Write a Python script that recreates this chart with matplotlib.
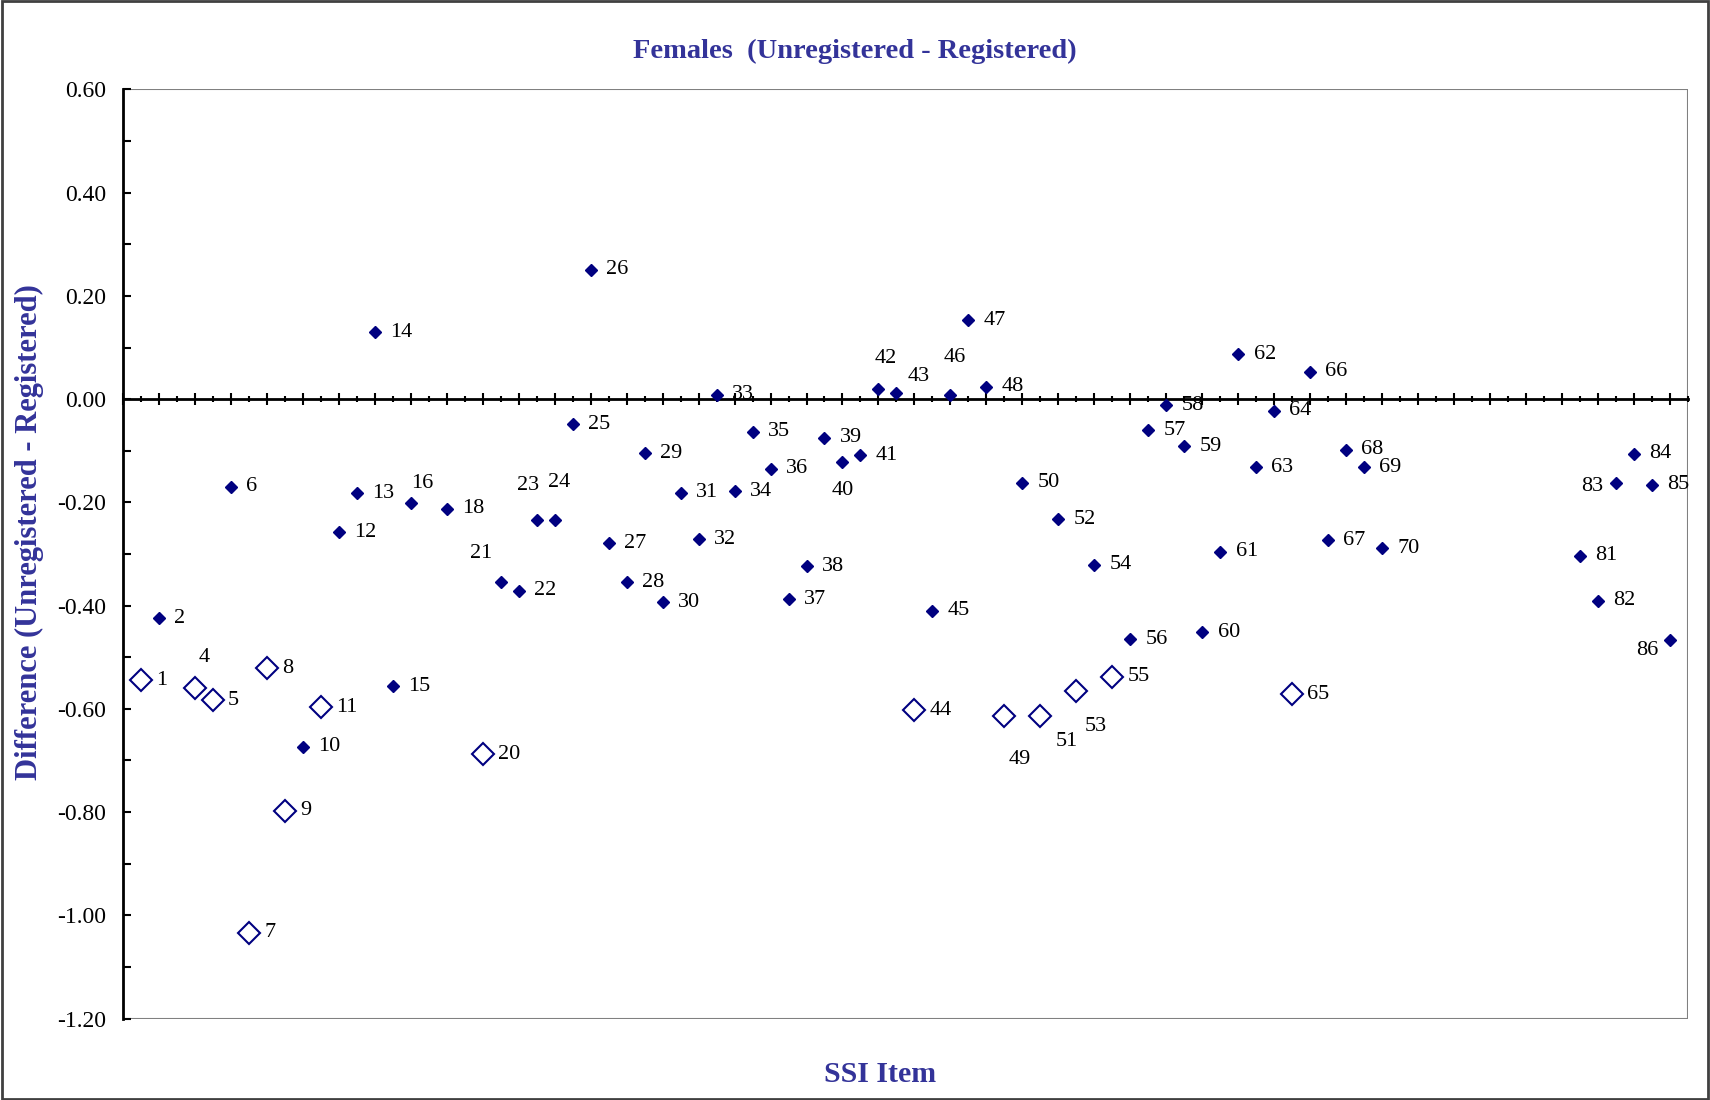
import numpy as np
import matplotlib
matplotlib.use("Agg")
import matplotlib.pyplot as plt
from matplotlib.patches import Rectangle
from matplotlib.ticker import MultipleLocator

# SSI items that have a value (3, 17, 19 and 71-80 are absent)
items = [1, 2, 4, 5, 6, 7, 8, 9, 10, 11, 12, 13, 14, 15, 16, 18, 20,
         21, 22, 23, 24, 25, 26, 27, 28, 29, 30, 31, 32, 33, 34, 35, 36,
         37, 38, 39, 40, 41, 42, 43, 44, 45, 46, 47, 48, 49, 50, 51, 52,
         53, 54, 55, 56, 57, 58, 59, 60, 61, 62, 63, 64, 65, 66, 67, 68,
         69, 70, 81, 82, 83, 84, 85, 86]
diffs = [-0.545, -0.424, -0.560, -0.583, -0.170, -1.034, -0.521, -0.797,
         -0.673, -0.597, -0.258, -0.182, 0.130, -0.556, -0.201, -0.212,
         -0.688, -0.355, -0.371, -0.234, -0.234, -0.049, 0.251, -0.279,
         -0.355, -0.105, -0.393, -0.181, -0.271, 0.009, -0.178, -0.063,
         -0.135, -0.388, -0.324, -0.075, -0.121, -0.109, 0.020, 0.012,
         -0.603, -0.410, 0.009, 0.153, 0.024, -0.614, -0.162, -0.614,
         -0.233, -0.566, -0.321, -0.538, -0.465, -0.060, -0.012, -0.091,
         -0.452, -0.296, 0.087, -0.132, -0.022, -0.572, 0.053, -0.273,
         -0.098, -0.132, -0.289, -0.303, -0.391, -0.163, -0.106, -0.166,
         -0.466]
# items drawn with the large open diamond
flagged_items = [1, 4, 5, 7, 8, 9, 11, 20, 44, 49, 51, 53, 55, 65]

# label offsets (points) for labels not placed to the right of the marker
label_offsets = {
    4: (7, 22), 16: (8, 14), 21: (-14, 21), 23: (-6, 25), 24: (3, 27),
    40: (0, -21), 42: (5, 22), 43: (16, 12), 46: (3, 27),
    49: (11, -31), 51: (19, -18), 53: (14, -25),
    83: (-17, -2), 86: (-16, -8),
}

navy = "#000080"
text_blue = "#333399"
plt.rcParams["font.family"] = ["Liberation Serif", "DejaVu Serif"]

x = np.array(items)
y = np.array(diffs)
flagged = np.isin(x, flagged_items)

fig = plt.figure(figsize=(17.1, 11), dpi=100)
ax = fig.add_axes([0.0719, 0.074, 0.9152, 0.8447])

ax.plot(x[~flagged], y[~flagged], linestyle="none", marker="D",
        markersize=6, color=navy, zorder=3)
ax.plot(x[flagged], y[flagged], linestyle="none", marker="D",
        markersize=11, markerfacecolor="white", markeredgecolor=navy,
        markeredgewidth=1.5, zorder=3)

for xi, yi in zip(x, y):
    if xi in label_offsets:
        ax.annotate(str(xi), (xi, yi), xytext=label_offsets[xi],
                    textcoords="offset points", ha="center", va="center",
                    fontsize=16)
    else:
        ax.annotate(str(xi), (xi, yi), xytext=(11, 0),
                    textcoords="offset points", ha="left", va="center",
                    fontsize=16)

ax.set_xlim(0, 87)
ax.set_ylim(-1.2, 0.6)

# x axis crosses at zero, plot area framed in grey
ax.spines["bottom"].set_position(("data", 0))
ax.spines["bottom"].set_linewidth(2)
ax.spines["left"].set_linewidth(2)
ax.spines["top"].set_visible(False)
ax.spines["right"].set_visible(False)
ax.add_patch(Rectangle((0, 0), 1, 1, transform=ax.transAxes, fill=False,
                       edgecolor="#808080", linewidth=1.5, zorder=0))

ax.xaxis.set_major_locator(MultipleLocator(2))
ax.xaxis.set_minor_locator(MultipleLocator(1))
ax.tick_params(axis="x", which="both", direction="inout", labelbottom=False,
               width=1.5)
ax.tick_params(axis="x", which="major", length=8)
ax.tick_params(axis="x", which="minor", length=5)

ax.yaxis.set_major_locator(MultipleLocator(0.2))
ax.yaxis.set_minor_locator(MultipleLocator(0.1))
ax.yaxis.set_major_formatter(matplotlib.ticker.FormatStrFormatter("%.2f"))
ax.tick_params(axis="y", which="both", direction="in", length=6, width=1.5,
               labelsize=17, pad=12)

fig.text(0.5, 1 - 51 / 1100, "Females  (Unregistered - Registered)",
         ha="center", va="center", fontsize=20.5, fontweight="bold",
         color=text_blue)
fig.text(880 / 1710, 1 - 1074 / 1100, "SSI Item", ha="center", va="center",
         fontsize=21.5, fontweight="bold", color=text_blue)
fig.text(29 / 1710, 1 - 532 / 1100, "Difference (Unregistered - Registered)",
         ha="center", va="center", rotation=90, fontsize=22,
         fontweight="bold", color=text_blue)

fig.patches.append(Rectangle((0.001, 0.001), 0.998, 0.998,
                             transform=fig.transFigure, fill=False,
                             edgecolor="#404040", linewidth=2))

fig.savefig("out.png", dpi=100)
